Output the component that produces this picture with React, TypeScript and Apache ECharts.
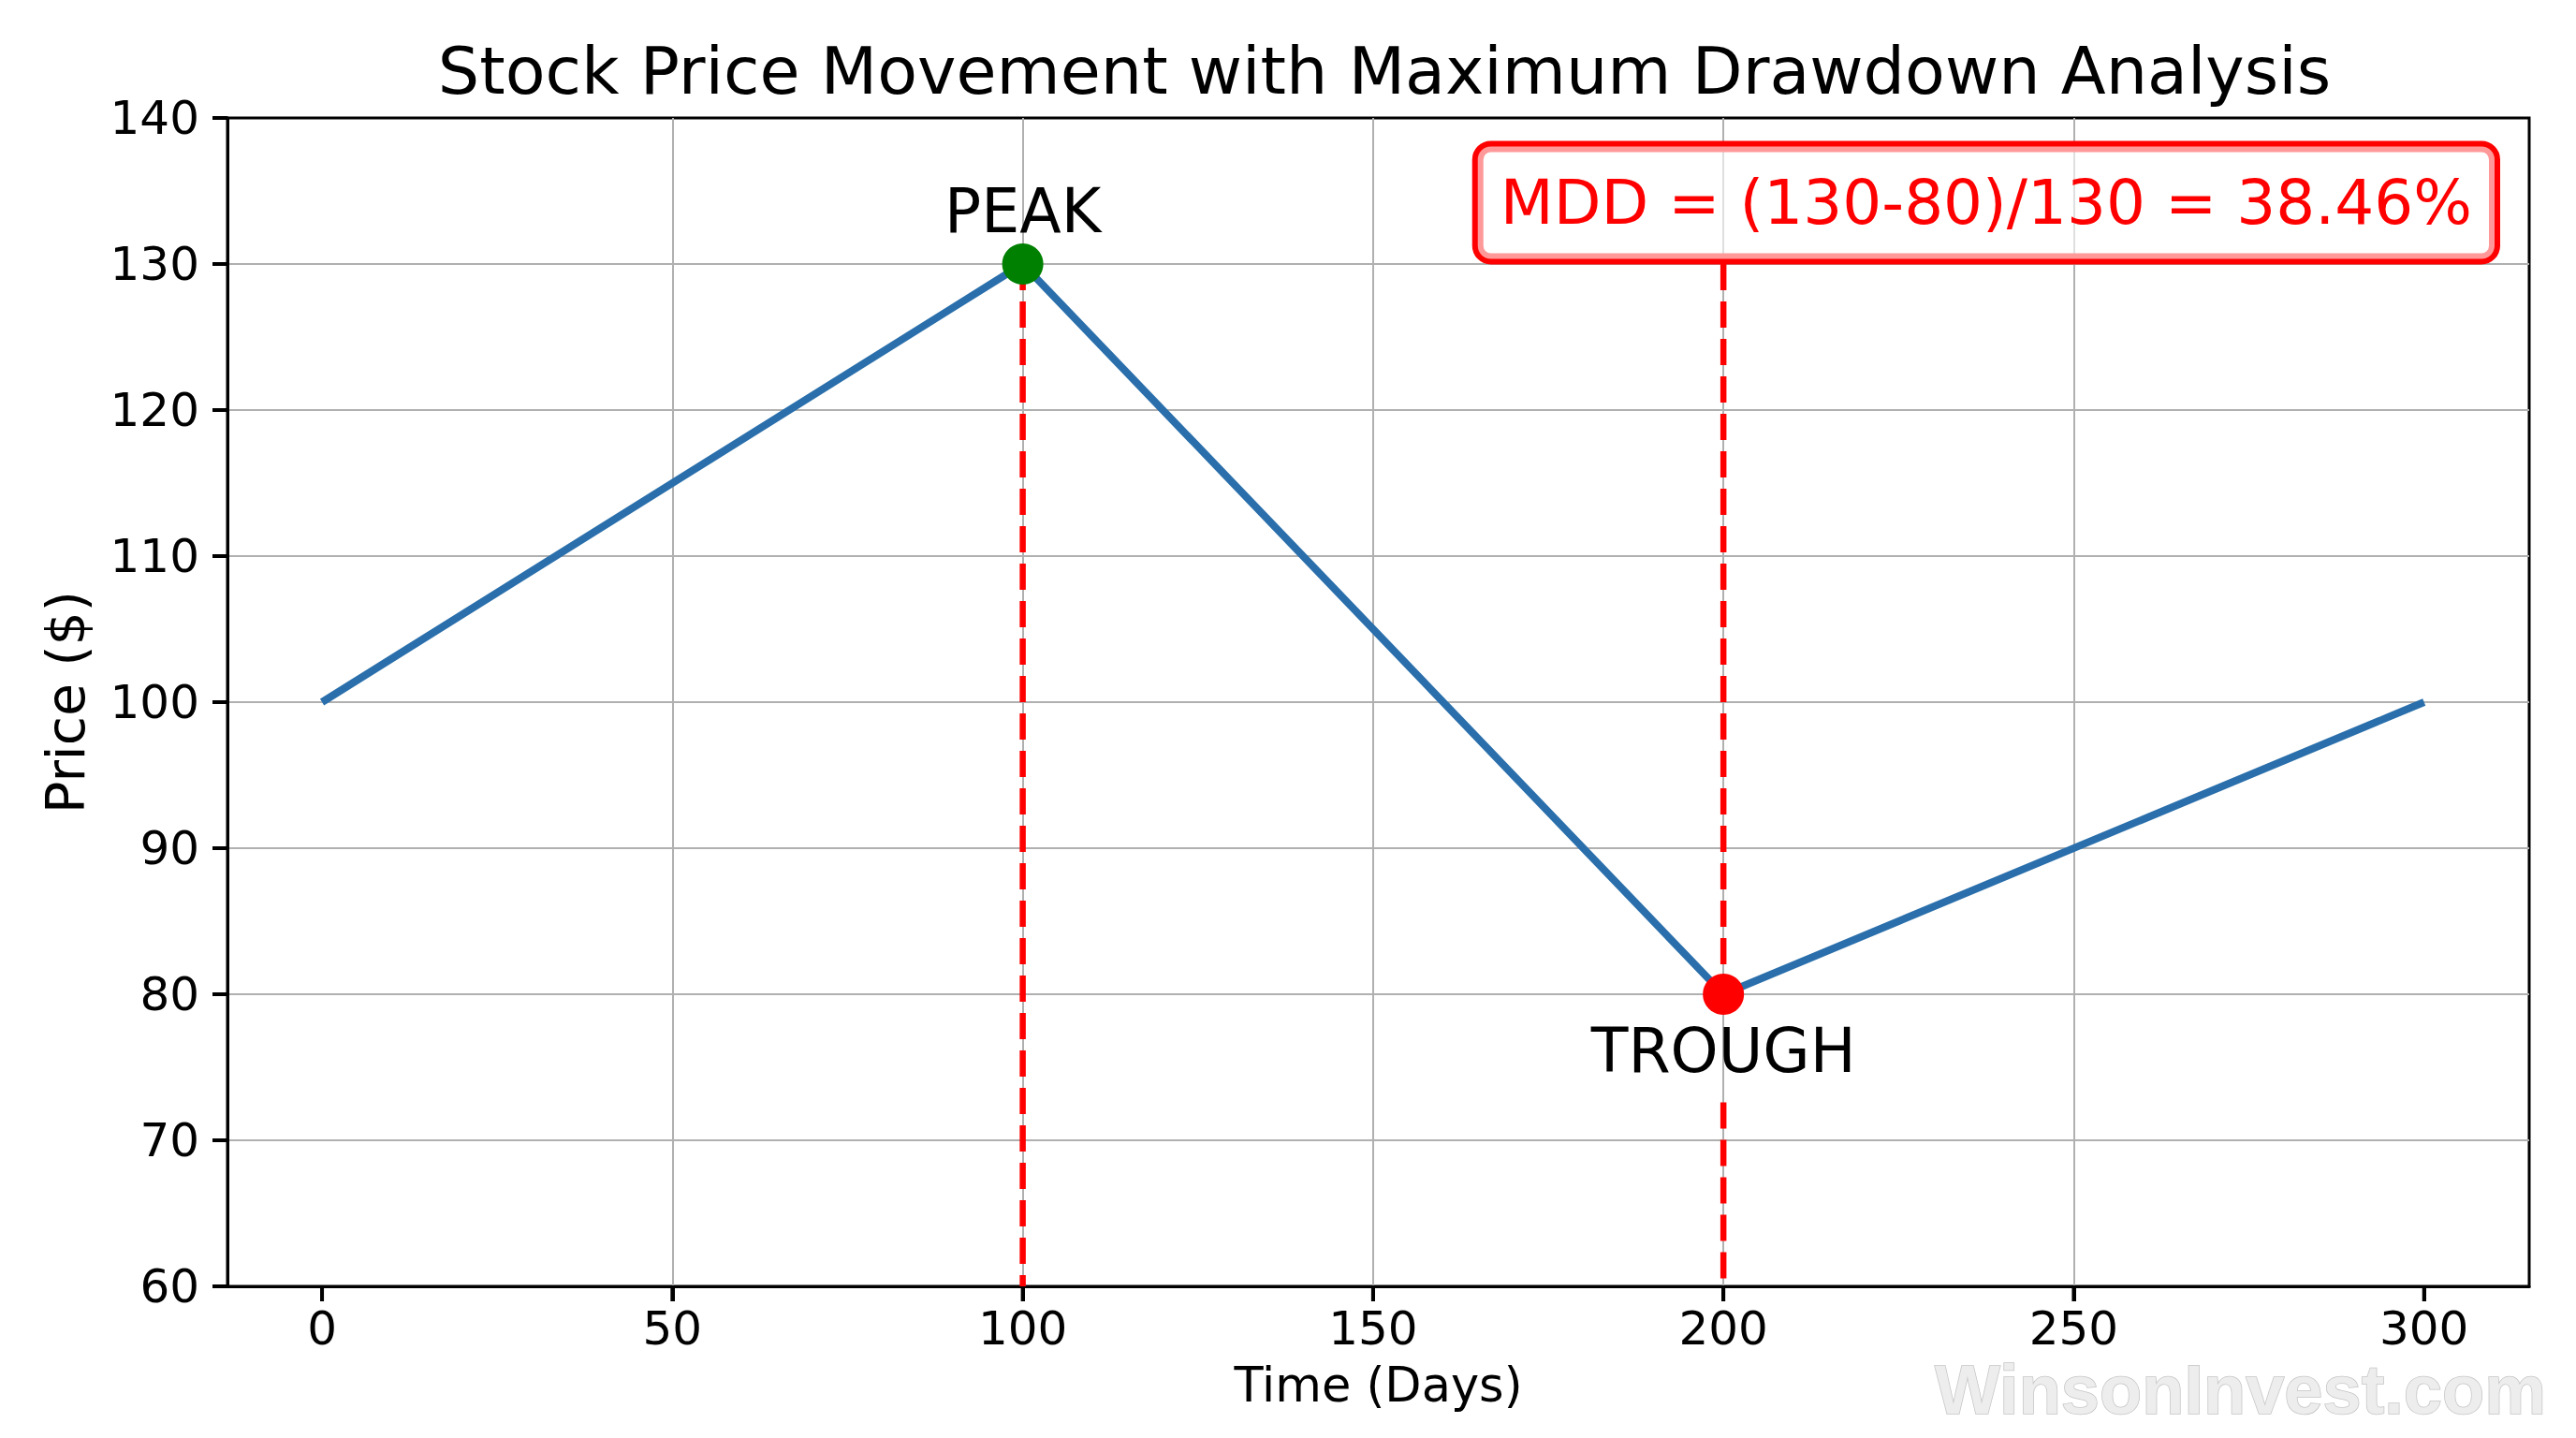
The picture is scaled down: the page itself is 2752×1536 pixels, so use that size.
import React, { useEffect, useRef } from "react";
import * as echarts from "echarts";

// ---- data ----
const days = [0, 100, 200, 300];
const prices = [100, 130, 80, 100];
const xTickValues = [0, 50, 100, 150, 200, 250, 300];
const yTickValues = [60, 70, 80, 90, 100, 110, 120, 130, 140];
const peakPoint = [100, 130];
const troughPoint = [200, 80];
const peakLabel = "PEAK";
const troughLabel = "TROUGH";
const peakLabelPos = [100, 133.65];
const troughLabelPos = [200, 76.1];
const mddLabelPos = [237.5, 134.2];
const troughLineResume = 72.6; // dashed line resumes below the TROUGH label
const mddText = "MDD = (130-80)/130 = 38.46%";
const titleText = "Stock Price Movement with Maximum Drawdown Analysis";
const xName = "Time (Days)";
const yName = "Price ($)";
const watermarkText = "WinsonInvest.com";

const X_MIN = -13.5;
const X_MAX = 315;
const Y_MIN = 60;
const Y_MAX = 140;

const FONT = "'DejaVu Sans', sans-serif";
const RED = "#ff0000";
const TICK_LEN = 16;

function buildOption(): any {
  const dashStyle = { color: RED, width: 6.5, type: [28, 12] };
  const axisLine = { show: true, onZero: false, lineStyle: { color: "#000", width: 3 } };
  const axisTick = { show: true, inside: false, length: TICK_LEN, lineStyle: { color: "#000", width: 4 } };
  return {
    animation: false,
    backgroundColor: "#ffffff",
    title: {
      text: titleText,
      left: 1474,
      top: 36,
      textAlign: "center",
      textStyle: { fontFamily: FONT, fontSize: 70, fontWeight: "normal", color: "#000" },
    },
    grid: {
      left: 243,
      right: 50,
      top: 126,
      bottom: 162,
      show: true,
      borderColor: "#000",
      borderWidth: 3,
      backgroundColor: "transparent",
    },
    xAxis: {
      type: "value",
      min: X_MIN,
      max: X_MAX,
      name: xName,
      nameLocation: "middle",
      nameGap: 80,
      nameTextStyle: { fontFamily: FONT, fontSize: 51, color: "#000" },
      axisLine,
      axisTick: { ...axisTick, customValues: xTickValues },
      axisLabel: {
        customValues: xTickValues,
        fontFamily: FONT,
        fontSize: 50,
        color: "#000",
        margin: 20,
      },
      splitLine: {
        show: true,
        showMinLine: false,
        showMaxLine: false,
        lineStyle: { color: "#b0b0b0", width: 2 },
      },
    },
    yAxis: {
      type: "value",
      min: Y_MIN,
      max: Y_MAX,
      interval: 10,
      name: yName,
      nameLocation: "middle",
      nameRotate: 90,
      nameGap: 145,
      nameTextStyle: { fontFamily: FONT, fontSize: 57, color: "#000" },
      axisLine,
      axisTick,
      axisLabel: { fontFamily: FONT, fontSize: 50, color: "#000", margin: 30 },
      splitLine: {
        show: true,
        showMinLine: false,
        showMaxLine: false,
        lineStyle: { color: "#b0b0b0", width: 2 },
      },
    },
    series: [
      {
        type: "custom",
        clip: false,
        silent: true,
        z: 8,
        data: [
          ...xTickValues.map((v) => [v, Y_MIN, 0]),
          ...yTickValues.map((v) => [X_MIN, v, 1]),
        ],
        renderItem: (_params: any, api: any) => {
          const p = api.coord([api.value(0), api.value(1)]);
          const horizontal = api.value(2) === 1;
          return {
            type: "line",
            shape: horizontal
              ? { x1: p[0] - TICK_LEN, y1: p[1], x2: p[0], y2: p[1] }
              : { x1: p[0], y1: p[1], x2: p[0], y2: p[1] + TICK_LEN },
            style: { stroke: "#000", lineWidth: 4 },
          };
        },
      },
      {
        type: "line",
        data: [
          [peakPoint[0], peakPoint[1]],
          [peakPoint[0], Y_MIN],
        ],
        symbol: "none",
        lineStyle: dashStyle,
        z: 3,
      },
      {
        type: "line",
        data: [
          [troughPoint[0], peakPoint[1]],
          [troughPoint[0], troughPoint[1]],
        ],
        symbol: "none",
        lineStyle: dashStyle,
        z: 3,
      },
      {
        type: "line",
        data: [
          [troughPoint[0], troughLineResume],
          [troughPoint[0], Y_MIN],
        ],
        symbol: "none",
        lineStyle: dashStyle,
        z: 3,
      },
      {
        type: "line",
        data: days.map((d, i) => [d, prices[i]]),
        symbol: "none",
        showSymbol: false,
        lineStyle: { color: "#2a6fab", width: 8 },
        z: 4,
      },
      {
        type: "scatter",
        data: [peakPoint],
        symbolSize: 44,
        itemStyle: { color: "#008000", opacity: 1 },
        z: 5,
      },
      {
        type: "scatter",
        data: [troughPoint],
        symbolSize: 44,
        itemStyle: { color: RED, opacity: 1 },
        z: 5,
      },
    ],
  };
}

export default function App() {
  const ref = useRef<HTMLDivElement>(null);
  useEffect(() => {
    const chart = echarts.init(ref.current as HTMLDivElement, null, { renderer: "svg" });
    chart.setOption(buildOption());
    const px = (p: number[]) => chart.convertToPixel({ gridIndex: 0 }, p) as number[];
    const pk = px(peakLabelPos);
    const tr = px(troughLabelPos);
    const md = px(mddLabelPos);
    chart.setOption({
      graphic: [
        {
          type: "text",
          x: pk[0],
          y: pk[1],
          z: 10,
          style: {
            text: peakLabel,
            fill: "#000",
            fontFamily: FONT,
            fontSize: 65,
            align: "center",
            verticalAlign: "middle",
          },
        },
        {
          type: "text",
          x: tr[0],
          y: tr[1],
          z: 10,
          style: {
            text: troughLabel,
            fill: "#000",
            fontFamily: FONT,
            fontSize: 65,
            align: "center",
            verticalAlign: "middle",
          },
        },
        {
          type: "text",
          x: md[0],
          y: md[1],
          z: 10,
          style: {
            text: mddText,
            fill: RED,
            fontFamily: FONT,
            fontSize: 66,
            align: "center",
            verticalAlign: "middle",
            backgroundColor: "rgba(255,255,255,0.6)",
            borderColor: RED,
            borderWidth: 6,
            borderRadius: 14,
            padding: [28, 24, 26, 24],
          },
        },
        {
          type: "text",
          x: 2720,
          y: 1484,
          z: 10,
          style: {
            text: watermarkText,
            fill: "#ededed",
            stroke: "#c4c4c4",
            lineWidth: 1.5,
            fontFamily: "'Liberation Sans', Arial, sans-serif",
            fontWeight: "bold",
            fontSize: 74,
            lineHeight: 54,
            align: "right",
            verticalAlign: "middle",
            shadowColor: "rgba(0,0,0,0.3)",
            shadowBlur: 6,
            shadowOffsetX: 3,
            shadowOffsetY: 3,
          },
        },
      ],
    });
    return () => chart.dispose();
  }, []);
  return (
    <div
      ref={ref}
      style={{ position: "fixed", left: 0, top: 0, width: 2752, height: 1536 }}
    />
  );
}
